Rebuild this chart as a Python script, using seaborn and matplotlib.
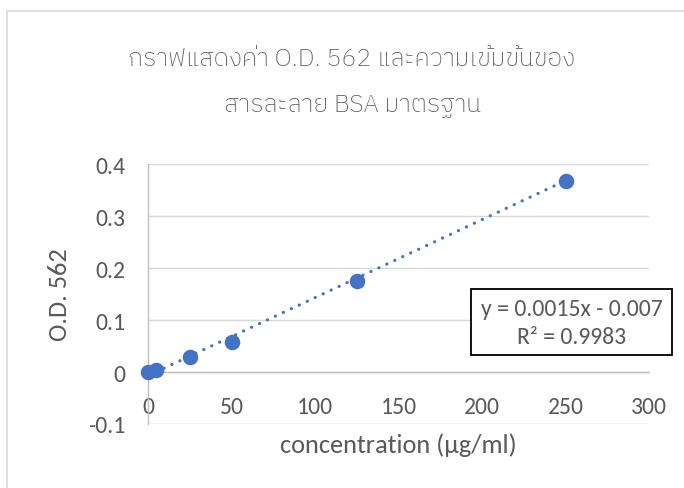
import matplotlib
matplotlib.use("Agg")
import matplotlib.pyplot as plt
from matplotlib.patches import Rectangle
from matplotlib.lines import Line2D
import numpy as np
import pandas as pd
import seaborn as sns

# ---- data ----
concentration = [0, 5, 25, 50, 125, 250]
od562 = [0.0, 0.004, 0.029, 0.058, 0.175, 0.367]
trend_slope = 0.0015
trend_intercept = -0.007
r_squared = 0.9983
x_ticks = [0, 50, 100, 150, 200, 250, 300]
y_ticks = [-0.1, 0, 0.1, 0.2, 0.3, 0.4]
y_tick_labels = ["-0.1", "0", "0.1", "0.2", "0.3", "0.4"]
title_line1 = "กราฟแสดงค่า O.D. 562 และความเข้มข้นของ"
title_line2 = "สารละลาย BSA มาตรฐาน"
x_label = "concentration (µg/ml)"
y_label = "O.D. 562"

sns.set_style("white")
plt.rcParams["font.family"] = ["Carlito", "Lato", "Noto Sans Thai", "DejaVu Sans"]

W, H = 684, 489
fig = plt.figure(figsize=(W / 100, H / 100), dpi=100)
fig.patch.set_facecolor("white")

def fx(px):
    return px / W

def fy(py):
    return 1 - py / H

ax = fig.add_axes([fx(148), fy(425), fx(649) - fx(148), fy(165) - fy(425)])
ax.set_facecolor("white")

blue = "#4472C4"
tick_col = "#595959"
axis_col = "#BFBFBF"
grid_col = "#D9D9D9"

df = pd.DataFrame({"concentration": concentration, "od": od562})
trend_x = [min(concentration), max(concentration)]
trend_df = pd.DataFrame({"x": trend_x,
                         "y": [trend_slope * v + trend_intercept for v in trend_x]})

sns.lineplot(data=trend_df, x="x", y="y", ax=ax, color=blue, lw=2.3,
             linestyle=(0, (0.05, 2.7)), dash_capstyle="round", zorder=3,
             clip_on=False)
sns.scatterplot(data=df, x="concentration", y="od", ax=ax, color=blue,
                s=125, edgecolor=blue, linewidth=0, zorder=4, clip_on=False)

ax.set_xlim(0, 300)
ax.set_ylim(-0.1, 0.4)
ax.set_xticks(x_ticks)
ax.set_yticks(y_ticks)
ax.set_yticklabels(y_tick_labels)

for s in ["top", "right"]:
    ax.spines[s].set_visible(False)
ax.spines["bottom"].set_position(("data", 0))
ax.spines["bottom"].set_color(axis_col)
ax.spines["left"].set_color(axis_col)
ax.spines["bottom"].set_linewidth(1.0)
ax.spines["left"].set_linewidth(1.0)

ax.grid(axis="y", color=grid_col, lw=1.0, zorder=0)
ax.grid(axis="x", visible=False)
ax.set_axisbelow(True)

ax.tick_params(axis="both", colors=axis_col, labelcolor=tick_col,
               labelsize=17, length=6, width=1.0, direction="out")
ax.tick_params(axis="y", pad=10)
ax.tick_params(axis="x", pad=11)

ax.set_xlabel(x_label, fontsize=19, color=tick_col)
ax.set_ylabel(y_label, fontsize=19, color=tick_col)
ax.xaxis.set_label_coords(0.5, (425 - 445) / 260)
ax.xaxis.label.set_va("center")
ax.yaxis.set_label_coords((59 - 148) / 501, 0.5)
ax.yaxis.label.set_va("center")

# title
title_font = dict(family=["IBM Plex Sans Thai"], weight="light", color=tick_col,
                  ha="center", va="center", fontsize=18)
fig.text(fx(352), fy(60), title_line1, **title_font)
fig.text(fx(352), fy(107), title_line2, **title_font)

# equation box
fig.add_artist(Rectangle((fx(471), fy(356)), fx(672) - fx(471), fy(290) - fy(356),
                         transform=fig.transFigure, fc="white", ec="black",
                         lw=1.3, zorder=5))
fig.text(fx(571.5), fy(310), f"y = {trend_slope}x - {abs(trend_intercept)}",
         ha="center", va="center", fontsize=17, color=tick_col, zorder=6)
fig.text(fx(571.5), fy(338), f"R² = {r_squared}",
         ha="center", va="center", fontsize=17, color=tick_col, zorder=6)

# chart area border (left and top visible)
fig.add_artist(Line2D([fx(7), fx(7)], [fy(12), 0], transform=fig.transFigure,
                      color=grid_col, lw=1.2))
fig.add_artist(Line2D([fx(7), 1], [fy(12), fy(12)], transform=fig.transFigure,
                      color=grid_col, lw=1.2))

fig.savefig("out.png", dpi=100, facecolor="white")
